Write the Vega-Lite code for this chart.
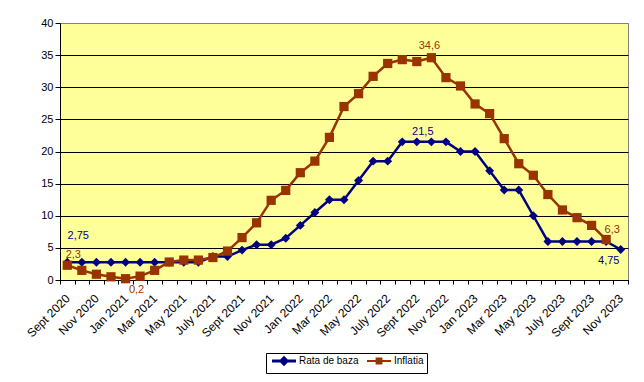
{
  "$schema": "https://vega.github.io/schema/vega-lite/v6.json",
  "autosize": "none",
  "width": 568,
  "height": 257,
  "padding": {"left": 60, "top": 23, "right": 16, "bottom": 102},
  "background": "white",
  "data": {"values": [
    {"m": "Sept 2020", "s": "Rata de baza", "v": 2.75, "lbl": "2,75"},
    {"m": "Oct 2020", "s": "Rata de baza", "v": 2.75},
    {"m": "Nov 2020", "s": "Rata de baza", "v": 2.75},
    {"m": "Dec 2020", "s": "Rata de baza", "v": 2.75},
    {"m": "Jan 2021", "s": "Rata de baza", "v": 2.75},
    {"m": "Feb 2021", "s": "Rata de baza", "v": 2.75},
    {"m": "Mar 2021", "s": "Rata de baza", "v": 2.75},
    {"m": "Apr 2021", "s": "Rata de baza", "v": 2.75},
    {"m": "May 2021", "s": "Rata de baza", "v": 2.75},
    {"m": "Jun 2021", "s": "Rata de baza", "v": 2.75},
    {"m": "July 2021", "s": "Rata de baza", "v": 3.65},
    {"m": "Aug 2021", "s": "Rata de baza", "v": 3.65},
    {"m": "Sept 2021", "s": "Rata de baza", "v": 4.65},
    {"m": "Oct 2021", "s": "Rata de baza", "v": 5.5},
    {"m": "Nov 2021", "s": "Rata de baza", "v": 5.5},
    {"m": "Dec 2021", "s": "Rata de baza", "v": 6.5},
    {"m": "Jan 2022", "s": "Rata de baza", "v": 8.5},
    {"m": "Feb 2022", "s": "Rata de baza", "v": 10.5},
    {"m": "Mar 2022", "s": "Rata de baza", "v": 12.5},
    {"m": "Apr 2022", "s": "Rata de baza", "v": 12.5},
    {"m": "May 2022", "s": "Rata de baza", "v": 15.5},
    {"m": "Jun 2022", "s": "Rata de baza", "v": 18.5},
    {"m": "July 2022", "s": "Rata de baza", "v": 18.5},
    {"m": "Aug 2022", "s": "Rata de baza", "v": 21.5},
    {"m": "Sept 2022", "s": "Rata de baza", "v": 21.5, "lbl": "21,5"},
    {"m": "Oct 2022", "s": "Rata de baza", "v": 21.5},
    {"m": "Nov 2022", "s": "Rata de baza", "v": 21.5},
    {"m": "Dec 2022", "s": "Rata de baza", "v": 20},
    {"m": "Jan 2023", "s": "Rata de baza", "v": 20},
    {"m": "Feb 2023", "s": "Rata de baza", "v": 17},
    {"m": "Mar 2023", "s": "Rata de baza", "v": 14},
    {"m": "Apr 2023", "s": "Rata de baza", "v": 14},
    {"m": "May 2023", "s": "Rata de baza", "v": 10},
    {"m": "Jun 2023", "s": "Rata de baza", "v": 6},
    {"m": "July 2023", "s": "Rata de baza", "v": 6},
    {"m": "Aug 2023", "s": "Rata de baza", "v": 6},
    {"m": "Sept 2023", "s": "Rata de baza", "v": 6},
    {"m": "Oct 2023", "s": "Rata de baza", "v": 6},
    {"m": "Nov 2023", "s": "Rata de baza", "v": 4.75, "lbl": "4,75"},
    {"m": "Sept 2020", "s": "Inflatia", "v": 2.3, "lbl": "2,3"},
    {"m": "Oct 2020", "s": "Inflatia", "v": 1.5},
    {"m": "Nov 2020", "s": "Inflatia", "v": 0.9},
    {"m": "Dec 2020", "s": "Inflatia", "v": 0.5},
    {"m": "Jan 2021", "s": "Inflatia", "v": 0.2, "lbl": "0,2"},
    {"m": "Feb 2021", "s": "Inflatia", "v": 0.6},
    {"m": "Mar 2021", "s": "Inflatia", "v": 1.5},
    {"m": "Apr 2021", "s": "Inflatia", "v": 2.8},
    {"m": "May 2021", "s": "Inflatia", "v": 3.1},
    {"m": "Jun 2021", "s": "Inflatia", "v": 3.1},
    {"m": "July 2021", "s": "Inflatia", "v": 3.5},
    {"m": "Aug 2021", "s": "Inflatia", "v": 4.5},
    {"m": "Sept 2021", "s": "Inflatia", "v": 6.6},
    {"m": "Oct 2021", "s": "Inflatia", "v": 8.9},
    {"m": "Nov 2021", "s": "Inflatia", "v": 12.4},
    {"m": "Dec 2021", "s": "Inflatia", "v": 13.95},
    {"m": "Jan 2022", "s": "Inflatia", "v": 16.7},
    {"m": "Feb 2022", "s": "Inflatia", "v": 18.5},
    {"m": "Mar 2022", "s": "Inflatia", "v": 22.2},
    {"m": "Apr 2022", "s": "Inflatia", "v": 27.0},
    {"m": "May 2022", "s": "Inflatia", "v": 29.0},
    {"m": "Jun 2022", "s": "Inflatia", "v": 31.7},
    {"m": "July 2022", "s": "Inflatia", "v": 33.7},
    {"m": "Aug 2022", "s": "Inflatia", "v": 34.3},
    {"m": "Sept 2022", "s": "Inflatia", "v": 34.0},
    {"m": "Oct 2022", "s": "Inflatia", "v": 34.6, "lbl": "34,6"},
    {"m": "Nov 2022", "s": "Inflatia", "v": 31.5},
    {"m": "Dec 2022", "s": "Inflatia", "v": 30.2},
    {"m": "Jan 2023", "s": "Inflatia", "v": 27.4},
    {"m": "Feb 2023", "s": "Inflatia", "v": 25.9},
    {"m": "Mar 2023", "s": "Inflatia", "v": 22.0},
    {"m": "Apr 2023", "s": "Inflatia", "v": 18.1},
    {"m": "May 2023", "s": "Inflatia", "v": 16.3},
    {"m": "Jun 2023", "s": "Inflatia", "v": 13.3},
    {"m": "July 2023", "s": "Inflatia", "v": 10.9},
    {"m": "Aug 2023", "s": "Inflatia", "v": 9.7},
    {"m": "Sept 2023", "s": "Inflatia", "v": 8.5},
    {"m": "Oct 2023", "s": "Inflatia", "v": 6.3, "lbl": "6,3"}
  ]},
  "encoding": {
    "x": {
      "field": "m", "type": "ordinal", "title": null,
      "scale": {"type": "band", "paddingInner": 0, "paddingOuter": 0,
        "domain": ["Sept 2020","Oct 2020","Nov 2020","Dec 2020","Jan 2021","Feb 2021","Mar 2021","Apr 2021","May 2021","Jun 2021","July 2021","Aug 2021","Sept 2021","Oct 2021","Nov 2021","Dec 2021","Jan 2022","Feb 2022","Mar 2022","Apr 2022","May 2022","Jun 2022","July 2022","Aug 2022","Sept 2022","Oct 2022","Nov 2022","Dec 2022","Jan 2023","Feb 2023","Mar 2023","Apr 2023","May 2023","Jun 2023","July 2023","Aug 2023","Sept 2023","Oct 2023","Nov 2023"]},
      "axis": {
        "tickBand": "extent", "grid": false,
        "labelExpr": "test(/^(Oct|Dec|Feb|Apr|Jun|Aug)/, datum.value) ? '' : datum.value",
        "labelAngle": -45, "labelAlign": "right", "labelBaseline": "middle",
        "labelPadding": 12, "labelFontSize": 12, "labelColor": "black",
        "tickSize": 4, "tickColor": "black", "domainColor": "black",
        "labelOverlap": false
      }
    },
    "y": {
      "field": "v", "type": "quantitative", "title": null,
      "scale": {"domain": [0, 40], "nice": false, "zero": true},
      "axis": {
        "values": [0, 5, 10, 15, 20, 25, 30, 35, 40],
        "grid": true,
        "gridColor": {"condition": {"test": "datum.value === 40", "value": "#808080"}, "value": "black"},
        "gridOpacity": 1,
        "tickSize": 5, "tickColor": "black", "domainColor": "black",
        "labelFontSize": 11, "labelColor": "black", "labelPadding": 2
      }
    }
  },
  "layer": [
    {
      "mark": {"type": "point", "filled": true, "opacity": 0},
      "encoding": {
        "fill": {"field": "s", "type": "nominal",
          "scale": {"domain": ["Rata de baza", "Inflatia"], "range": ["#000080", "#993300"]},
          "legend": {"title": null}},
        "stroke": {"field": "s", "type": "nominal",
          "scale": {"domain": ["Rata de baza", "Inflatia"], "range": ["#000080", "#993300"]},
          "legend": {"title": null}},
        "shape": {"field": "s", "type": "nominal",
          "scale": {"domain": ["Rata de baza", "Inflatia"], "range": ["M-6,0H6M0,-1.6L1.6,0L0,1.6L-1.6,0Z", "M-6,0H6M-1.2,-1.2H1.2V1.2H-1.2Z"]},
          "legend": {"title": null}}
      }
    },
    {
      "mark": {"type": "line", "strokeWidth": 2.5},
      "encoding": {
        "color": {"field": "s", "type": "nominal",
          "scale": {"domain": ["Rata de baza", "Inflatia"], "range": ["#000080", "#993300"]},
          "legend": null},
        "strokeWidth": {"field": "s", "type": "nominal",
          "scale": {"domain": ["Rata de baza", "Inflatia"], "range": [2.8, 2]},
          "legend": null}
      }
    },
    {
      "transform": [{"filter": "datum.s === 'Rata de baza'"}],
      "mark": {"type": "point", "shape": "diamond", "filled": true, "size": 80, "color": "#000080", "opacity": 1},
      "encoding": {}
    },
    {
      "transform": [{"filter": "datum.s === 'Inflatia'"}],
      "mark": {"type": "point", "shape": "square", "filled": true, "size": 85, "color": "#993300", "opacity": 1},
      "encoding": {}
    },
    {
      "transform": [{"filter": "datum.lbl === '2,75'"}],
      "mark": {"type": "text", "dx": 11, "dy": -26, "fontSize": 11, "color": "#000080"},
      "encoding": {"text": {"field": "lbl"}}
    },
    {
      "transform": [{"filter": "datum.lbl === '2,3' || datum.lbl === '6,3'"}],
      "mark": {"type": "text", "dx": 6, "dy": -10, "fontSize": 11, "color": "#993300"},
      "encoding": {"text": {"field": "lbl"}}
    },
    {
      "transform": [{"filter": "datum.lbl === '21,5'"}],
      "mark": {"type": "text", "dx": 6, "dy": -10, "fontSize": 11, "color": "#000080"},
      "encoding": {"text": {"field": "lbl"}}
    },
    {
      "transform": [{"filter": "datum.lbl === '34,6'"}],
      "mark": {"type": "text", "dx": -2, "dy": -12, "fontSize": 11, "color": "#993300"},
      "encoding": {"text": {"field": "lbl"}}
    },
    {
      "transform": [{"filter": "datum.lbl === '0,2'"}],
      "mark": {"type": "text", "dx": 11, "dy": 11, "fontSize": 11, "color": "#993300"},
      "encoding": {"text": {"field": "lbl"}}
    },
    {
      "transform": [{"filter": "datum.lbl === '4,75'"}],
      "mark": {"type": "text", "dx": -12, "dy": 12, "fontSize": 11, "color": "#000080"},
      "encoding": {"text": {"field": "lbl"}}
    }
  ],
  "config": {
    "font": "Liberation Sans",
    "view": {"fill": "#FFFF99", "stroke": "#808080", "strokeWidth": 1},
    "text": {"font": "Liberation Sans"},
    "legend": {
      "orient": "none", "legendX": 206, "legendY": 330, "direction": "horizontal",
      "strokeColor": "black", "strokeWidth": 1, "padding": 3,
      "labelFontSize": 10, "labelColor": "black", "labelFont": "Liberation Sans",
      "symbolSize": 16, "symbolOffset": 10, "labelOffset": 10, "columnPadding": 4,
      "gridAlign": "none", "symbolStrokeWidth": 2, "symbolOpacity": 1
    }
  }
}
